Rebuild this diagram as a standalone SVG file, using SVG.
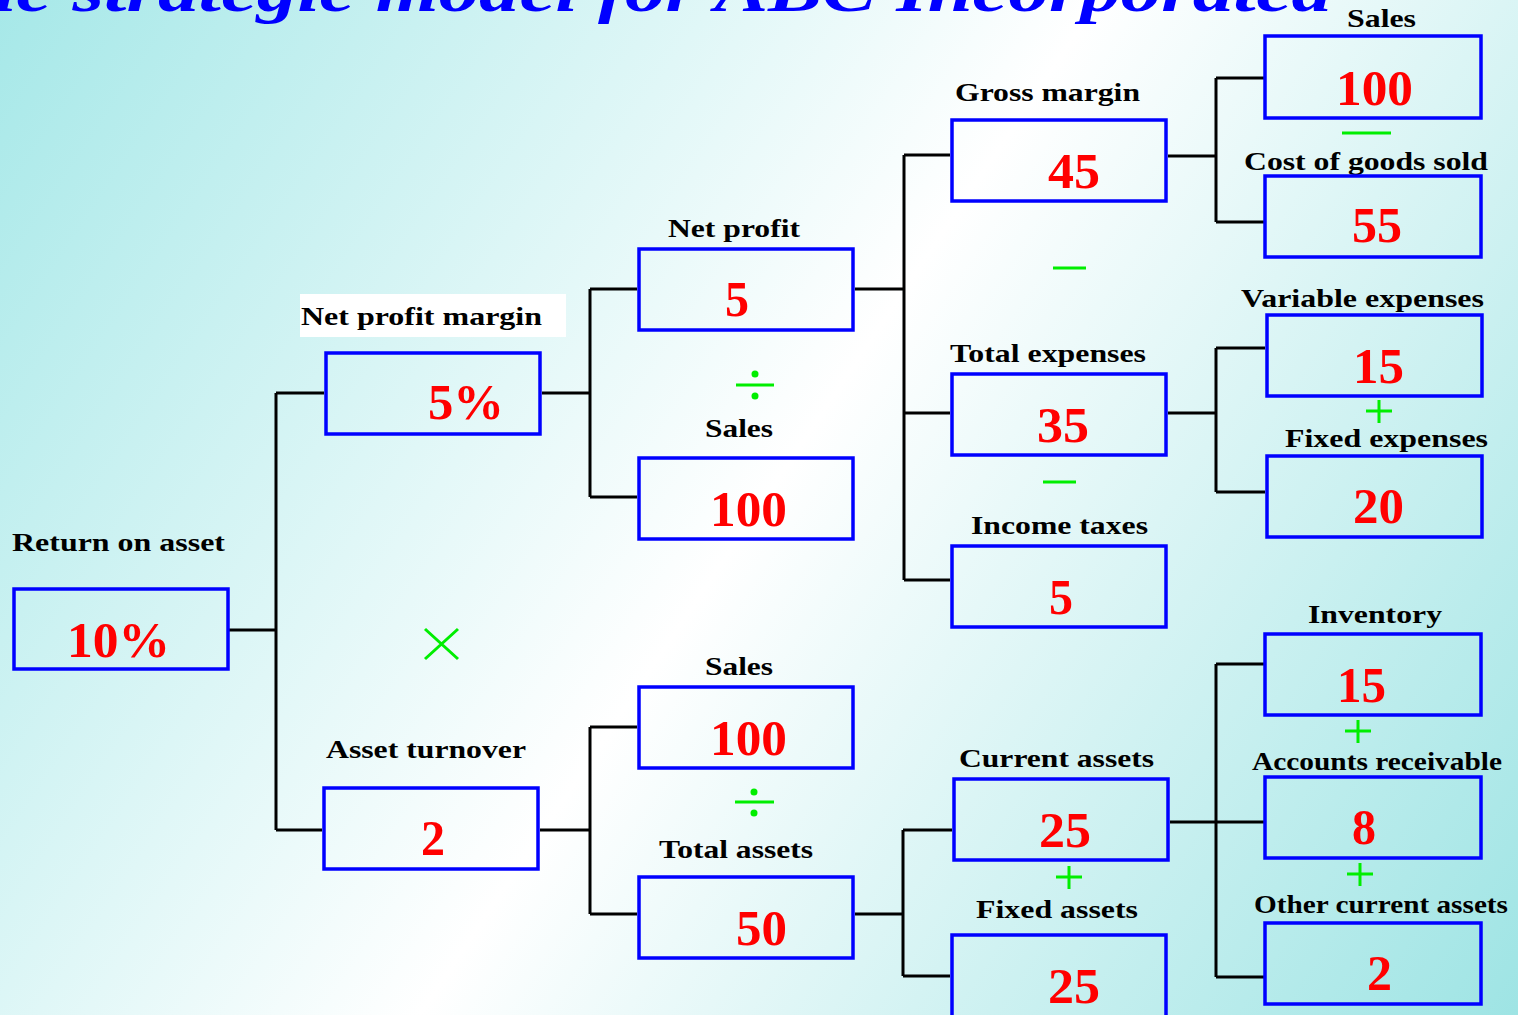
<svg xmlns="http://www.w3.org/2000/svg" width="1518" height="1015" viewBox="0 0 1518 1015">
<defs>
<linearGradient id="bg" x1="0" y1="0" x2="1518" y2="1015" gradientUnits="userSpaceOnUse">
<stop offset="0" stop-color="#a6e8e8"/>
<stop offset="0.5" stop-color="#ffffff"/>
<stop offset="1" stop-color="#9ee4e4"/>
</linearGradient>
<style>
.box{fill:none;stroke:#0000ff;stroke-width:3.5}
.lbl{font-family:"Liberation Serif","Times New Roman",serif;font-weight:bold;font-size:26px;fill:#000}
.val{font-family:"Liberation Serif","Times New Roman",serif;font-weight:bold;font-size:50px;fill:#ff0000}
.title{font-family:"Liberation Serif","Times New Roman",serif;font-weight:bold;font-style:italic;font-size:62px;fill:#0000ff}
.con{fill:none;stroke:#000;stroke-width:3}
.op{fill:none;stroke:#00ee00;stroke-width:3}
.dot{fill:#00ee00}
</style>
</defs>
<rect width="1518" height="1015" fill="url(#bg)"/>
<text class="title" x="-6" y="11" textLength="1338" lengthAdjust="spacingAndGlyphs">ic strategic model for ABC Incorporated</text>

<g id="connectors">
<path class="con" d="M229,630H276M276,393V830M276,393H324M276,830H322"/>
<path class="con" d="M542,393H590M590,289V497M590,289H637M590,497H637"/>
<path class="con" d="M540,830H590M590,727V914M590,727H637M590,914H637"/>
<path class="con" d="M855,289H904M904,155V580M904,155H950M904,413H950M904,580H950"/>
<path class="con" d="M855,914H903M903,830V976M903,830H952M903,976H950"/>
<path class="con" d="M1168,156H1216M1216,78V222M1216,78H1264M1216,222H1264"/>
<path class="con" d="M1168,413H1216M1216,348V492M1216,348H1265M1216,492H1265"/>
<path class="con" d="M1170,822H1216M1216,664V977M1216,664H1264M1216,822H1264M1216,977H1264"/>
</g>

<g id="operators">
<path class="op" d="M425,629L458,659M458,629L425,659"/>
<path class="op" d="M736,385H774"/><circle class="dot" cx="755" cy="374" r="3.5"/><circle class="dot" cx="755" cy="396" r="3.5"/>
<path class="op" d="M735,802H774"/><circle class="dot" cx="754" cy="792" r="3.5"/><circle class="dot" cx="754" cy="813" r="3.5"/>
<path class="op" d="M1053,268H1086"/>
<path class="op" d="M1043,482H1076"/>
<path class="op" d="M1342,133H1391"/>
<path class="op" d="M1366,411H1392M1379,400V423"/>
<path class="op" d="M1345,731H1371M1358,720V743"/>
<path class="op" d="M1347,874H1373M1360,863V886"/>
<path class="op" d="M1056,877H1082M1069,866V889"/>
</g>

<g id="return-on-asset">
<text class="lbl" x="12" y="551" textLength="213" lengthAdjust="spacingAndGlyphs">Return on asset</text>
<rect class="box" x="14" y="589" width="214" height="80"/>
<text class="val" x="67" y="657" textLength="103" lengthAdjust="spacingAndGlyphs">10%</text>
</g>

<g id="net-profit-margin">
<rect x="300" y="294" width="266" height="43" fill="#ffffff"/>
<text class="lbl" x="301" y="325" textLength="241" lengthAdjust="spacingAndGlyphs">Net profit margin</text>
<rect class="box" x="326" y="353" width="214" height="81"/>
<text class="val" x="428" y="419" textLength="76" lengthAdjust="spacingAndGlyphs">5%</text>
</g>

<g id="asset-turnover">
<text class="lbl" x="326" y="758" textLength="200" lengthAdjust="spacingAndGlyphs">Asset turnover</text>
<rect class="box" x="324" y="788" width="214" height="81"/>
<text class="val" x="421" y="855" textLength="24" lengthAdjust="spacingAndGlyphs">2</text>
</g>

<g id="net-profit">
<text class="lbl" x="668" y="237" textLength="132" lengthAdjust="spacingAndGlyphs">Net profit</text>
<rect class="box" x="639" y="249" width="214" height="81"/>
<text class="val" x="725" y="316" textLength="24" lengthAdjust="spacingAndGlyphs">5</text>
</g>

<g id="sales-1">
<text class="lbl" x="705" y="437" textLength="68" lengthAdjust="spacingAndGlyphs">Sales</text>
<rect class="box" x="639" y="458" width="214" height="81"/>
<text class="val" x="710" y="526" textLength="77" lengthAdjust="spacingAndGlyphs">100</text>
</g>

<g id="sales-2">
<text class="lbl" x="705" y="675" textLength="68" lengthAdjust="spacingAndGlyphs">Sales</text>
<rect class="box" x="639" y="687" width="214" height="81"/>
<text class="val" x="710" y="755" textLength="77" lengthAdjust="spacingAndGlyphs">100</text>
</g>

<g id="total-assets">
<text class="lbl" x="659" y="858" textLength="154" lengthAdjust="spacingAndGlyphs">Total assets</text>
<rect class="box" x="639" y="877" width="214" height="81"/>
<text class="val" x="736" y="945" textLength="51" lengthAdjust="spacingAndGlyphs">50</text>
</g>

<g id="gross-margin">
<text class="lbl" x="955" y="101" textLength="185" lengthAdjust="spacingAndGlyphs">Gross margin</text>
<rect class="box" x="952" y="120" width="214" height="81"/>
<text class="val" x="1048" y="188" textLength="52" lengthAdjust="spacingAndGlyphs">45</text>
</g>

<g id="total-expenses">
<text class="lbl" x="950" y="362" textLength="196" lengthAdjust="spacingAndGlyphs">Total expenses</text>
<rect class="box" x="952" y="374" width="214" height="81"/>
<text class="val" x="1037" y="442" textLength="52" lengthAdjust="spacingAndGlyphs">35</text>
</g>

<g id="income-taxes">
<text class="lbl" x="971" y="534" textLength="177" lengthAdjust="spacingAndGlyphs">Income taxes</text>
<rect class="box" x="952" y="546" width="214" height="81"/>
<text class="val" x="1049" y="614" textLength="24" lengthAdjust="spacingAndGlyphs">5</text>
</g>

<g id="current-assets">
<text class="lbl" x="959" y="767" textLength="195" lengthAdjust="spacingAndGlyphs">Current assets</text>
<rect class="box" x="954" y="779" width="214" height="81"/>
<text class="val" x="1039" y="847" textLength="52" lengthAdjust="spacingAndGlyphs">25</text>
</g>

<g id="fixed-assets">
<text class="lbl" x="976" y="918" textLength="162" lengthAdjust="spacingAndGlyphs">Fixed assets</text>
<rect class="box" x="952" y="935" width="214" height="90"/>
<text class="val" x="1048" y="1003" textLength="52" lengthAdjust="spacingAndGlyphs">25</text>
</g>

<g id="sales-3">
<text class="lbl" x="1347" y="27" textLength="69" lengthAdjust="spacingAndGlyphs">Sales</text>
<rect class="box" x="1265" y="36" width="216" height="82"/>
<text class="val" x="1336" y="105" textLength="77" lengthAdjust="spacingAndGlyphs">100</text>
</g>

<g id="cost-of-goods-sold">
<text class="lbl" x="1244" y="170" textLength="244" lengthAdjust="spacingAndGlyphs">Cost of goods sold</text>
<rect class="box" x="1265" y="176" width="216" height="81"/>
<text class="val" x="1352" y="242" textLength="50" lengthAdjust="spacingAndGlyphs">55</text>
</g>

<g id="variable-expenses">
<text class="lbl" x="1241" y="307" textLength="243" lengthAdjust="spacingAndGlyphs">Variable expenses</text>
<rect class="box" x="1267" y="315" width="215" height="81"/>
<text class="val" x="1353" y="383" textLength="51" lengthAdjust="spacingAndGlyphs">15</text>
</g>

<g id="fixed-expenses">
<text class="lbl" x="1285" y="447" textLength="203" lengthAdjust="spacingAndGlyphs">Fixed expenses</text>
<rect class="box" x="1267" y="456" width="215" height="81"/>
<text class="val" x="1353" y="523" textLength="51" lengthAdjust="spacingAndGlyphs">20</text>
</g>

<g id="inventory">
<text class="lbl" x="1308" y="623" textLength="134" lengthAdjust="spacingAndGlyphs">Inventory</text>
<rect class="box" x="1265" y="634" width="216" height="81"/>
<text class="val" x="1337" y="702" textLength="49" lengthAdjust="spacingAndGlyphs">15</text>
</g>

<g id="accounts-receivable">
<text class="lbl" x="1252" y="770" textLength="250" lengthAdjust="spacingAndGlyphs">Accounts receivable</text>
<rect class="box" x="1265" y="777" width="216" height="81"/>
<text class="val" x="1352" y="844" textLength="24" lengthAdjust="spacingAndGlyphs">8</text>
</g>

<g id="other-current-assets">
<text class="lbl" x="1254" y="913" textLength="254" lengthAdjust="spacingAndGlyphs">Other current assets</text>
<rect class="box" x="1265" y="923" width="216" height="81"/>
<text class="val" x="1367" y="990" textLength="25" lengthAdjust="spacingAndGlyphs">2</text>
</g>
</svg>
